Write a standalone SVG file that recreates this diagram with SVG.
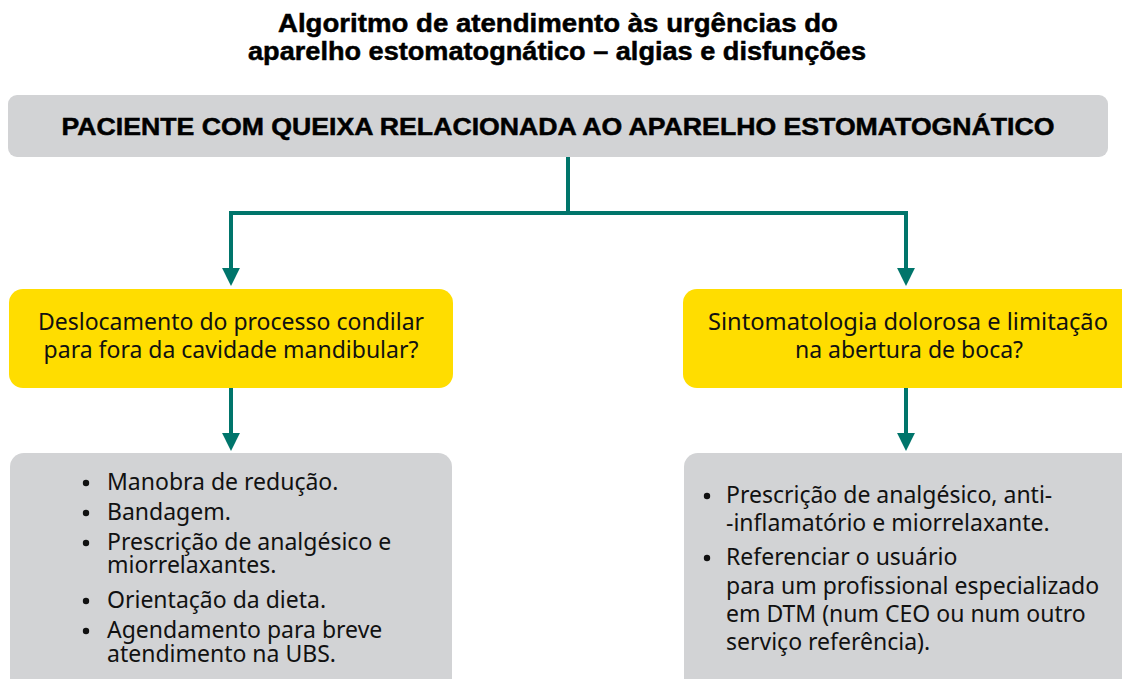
<svg xmlns="http://www.w3.org/2000/svg" width="1122" height="679" viewBox="0 0 1122 679">
<style>
.title{font-family:"Liberation Sans",Arial,sans-serif;font-weight:bold;font-size:26px;fill:#000;stroke:#000;stroke-width:0.5;text-anchor:middle}
.head{font-family:"Liberation Sans",Arial,sans-serif;font-weight:bold;font-size:24px;fill:#000;stroke:#000;stroke-width:0.5;text-anchor:middle}
.q{font-family:"Noto Sans","Open Sans",sans-serif;font-size:23px;fill:#111;text-anchor:middle}
.b{font-family:"Noto Sans","Open Sans",sans-serif;font-size:23px;fill:#111}
.gray{fill:#d2d3d5}
.yel{fill:#ffdd00}
.conn{fill:none;stroke:#00756b;stroke-width:4;stroke-linejoin:miter}
</style>
<defs>
<marker id="ah" markerUnits="userSpaceOnUse" markerWidth="18" markerHeight="18" viewBox="0 0 17 17" refX="2" refY="8.5" orient="auto">
<path d="M0,0 L17,8.5 L0,17 z" fill="#00756b"/>
</marker>
</defs>
<g id="title">
<text class="title" x="558" y="32" textLength="560" lengthAdjust="spacingAndGlyphs">Algoritmo de atendimento às urgências do</text>
<text class="title" x="557" y="60" textLength="618" lengthAdjust="spacingAndGlyphs">aparelho estomatognático – algias e disfunções</text>
</g>
<g id="connectors">
<path class="conn" d="M568,157 V213 H231 V270" marker-end="url(#ah)"/>
<path class="conn" d="M566,213 H906 V270" marker-end="url(#ah)"/>
<path class="conn" d="M231,388 V435" marker-end="url(#ah)"/>
<path class="conn" d="M906,388 V435" marker-end="url(#ah)"/>
</g>
<g id="paciente">
<rect class="gray" x="8" y="95" width="1100" height="62" rx="9"/>
<text class="head" x="558" y="135" textLength="993" lengthAdjust="spacingAndGlyphs">PACIENTE COM QUEIXA RELACIONADA AO APARELHO ESTOMATOGNÁTICO</text>
</g>
<g id="deslocamento">
<rect class="yel" x="9" y="289" width="444" height="99" rx="14"/>
<text class="q" x="231" y="330">Deslocamento do processo condilar</text>
<text class="q" x="231" y="358">para fora da cavidade mandibular?</text>
</g>
<g id="sintomatologia">
<rect class="yel" x="683" y="289" width="452" height="99" rx="14"/>
<text class="q" x="908" y="330" textLength="400" lengthAdjust="spacingAndGlyphs">Sintomatologia dolorosa e limitação</text>
<text class="q" x="909" y="358">na abertura de boca?</text>
</g>
<g id="conduta-deslocamento">
<rect class="gray" x="10" y="453" width="442" height="240" rx="14"/>
<g fill="#111">
<circle cx="86" cy="483" r="3.2"/>
<circle cx="86" cy="513" r="3.2"/>
<circle cx="86" cy="543" r="3.2"/>
<circle cx="86" cy="601" r="3.2"/>
<circle cx="86" cy="631" r="3.2"/>
</g>
<text class="b" x="107" y="490">Manobra de redução.</text>
<text class="b" x="107" y="520">Bandagem.</text>
<text class="b" x="107" y="550">Prescrição de analgésico e</text>
<text class="b" x="107" y="573">miorrelaxantes.</text>
<text class="b" x="107" y="608">Orientação da dieta.</text>
<text class="b" x="107" y="638">Agendamento para breve</text>
<text class="b" x="107" y="662">atendimento na UBS.</text>
</g>
<g id="conduta-sintomatologia">
<rect class="gray" x="684" y="453" width="452" height="240" rx="14"/>
<g fill="#111">
<circle cx="707" cy="496" r="3.2"/>
<circle cx="707" cy="558" r="3.2"/>
</g>
<text class="b" x="726" y="503">Prescrição de analgésico, anti-</text>
<text class="b" x="726" y="531">-inflamatório e miorrelaxante.</text>
<text class="b" x="726" y="565">Referenciar o usuário</text>
<text class="b" x="726" y="594">para um profissional especializado</text>
<text class="b" x="726" y="622">em DTM (num CEO ou num outro</text>
<text class="b" x="726" y="650">serviço referência).</text>
</g>
</svg>
